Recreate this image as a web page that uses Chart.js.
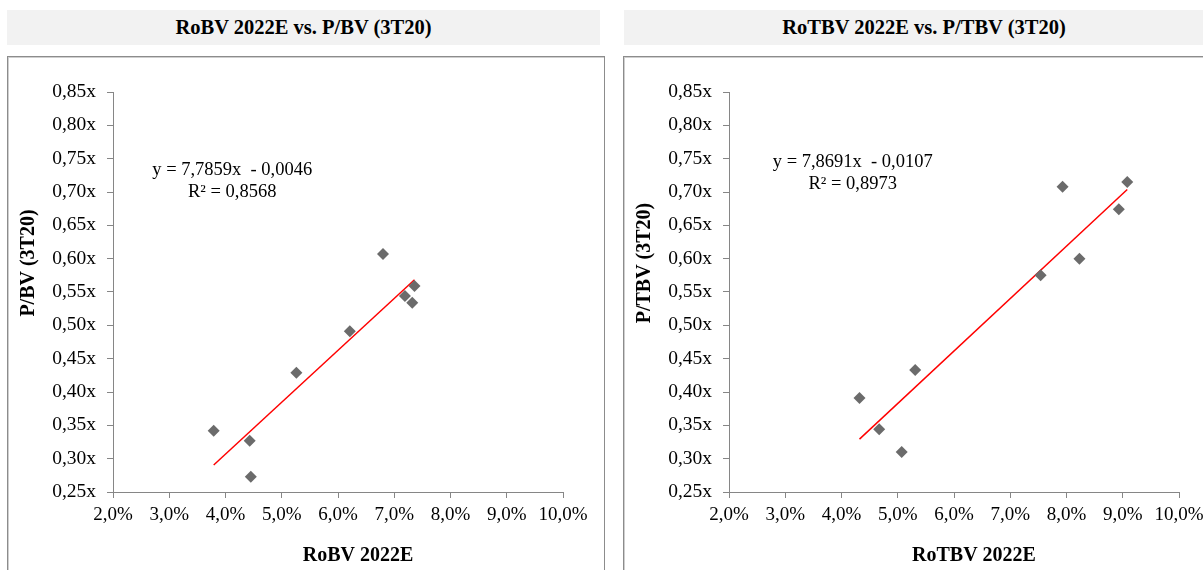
<!DOCTYPE html>
<html>
<head>
<meta charset="utf-8">
<script src="https://cdn.jsdelivr.net/npm/chart.js@4.4.1/dist/chart.umd.min.js"></script>
<style>
  body { margin: 0; background: #fff; overflow: hidden; width: 1203px; height: 570px; position: relative; font-family: "Liberation Serif", "Times New Roman", serif; }
  .head { position: absolute; top: 10px; height: 35px; line-height: 35px; background: #f2f2f2; text-align: center; font-weight: bold; font-size: 20.5px; color: #000; }
  .box { position: absolute; top: 56px; height: 540px; border: 1px solid #8c8c8c; box-shadow: inset 1px 1px 0 #cfcfcf; overflow: hidden; }
  .box canvas { position: absolute; left: 0; top: 0; }
</style>
</head>
<body>
<div class="head" style="left:7px;width:593px">RoBV 2022E vs. P/BV (3T20)</div>
<div class="head" style="left:624px;width:600px">RoTBV 2022E vs. P/TBV (3T20)</div>
<div class="box" style="left:7px;width:596px"><canvas id="c1" width="596" height="513"></canvas></div>
<div class="box" style="left:623px;width:600px"><canvas id="c2" width="596" height="513"></canvas></div>
<script>
// RoBV 2022E (%) vs P/BV (3T20)
var robv = [3.79, 4.43, 4.45, 5.26, 6.21, 6.80, 7.19, 7.36, 7.32];
var pbv = [0.342, 0.327, 0.273, 0.429, 0.491, 0.607, 0.544, 0.559, 0.534];
var fit1 = [7.7859, -0.0046];  // slope, intercept
var eq1 = ['y = 7,7859x  - 0,0046', 'R² = 0,8568'];

// RoTBV 2022E (%) vs P/TBV (3T20)
var rotbv = [4.32, 4.67, 5.07, 5.31, 7.54, 7.93, 8.23, 8.93, 9.08];
var ptbv = [0.391, 0.344, 0.310, 0.433, 0.575, 0.708, 0.600, 0.674, 0.715];
var fit2 = [7.8691, -0.0107];
var eq2 = ['y = 7,8691x  - 0,0107', 'R² = 0,8973'];

var xTicks = [2, 3, 4, 5, 6, 7, 8, 9, 10];
var yTicks = [0.25, 0.30, 0.35, 0.40, 0.45, 0.50, 0.55, 0.60, 0.65, 0.70, 0.75, 0.80, 0.85];

var serif = '"Liberation Serif", "Times New Roman", serif';

// trendline equation + axis titles
var labels = {
  id: 'labels',
  afterDatasetsDraw: function(chart) {
    var o = chart.options.plugins.labels;
    var ctx = chart.ctx;
    var px = chart.scales.x.getPixelForValue(o.eqAt[0]);
    var py = chart.scales.y.getPixelForValue(o.eqAt[1]);
    ctx.save();
    ctx.fillStyle = '#000';
    ctx.textAlign = 'center';
    ctx.textBaseline = 'middle';
    ctx.font = '18.5px ' + serif;
    o.eq.forEach(function(t, i) { ctx.fillText(t, px, py + i * 22); });
    ctx.font = 'bold 20px ' + serif;
    ctx.fillText(o.xTitle, o.xTitleAt[0], o.xTitleAt[1]);
    ctx.translate(o.yTitleAt[0], o.yTitleAt[1]);
    ctx.rotate(-Math.PI / 2);
    ctx.fillText(o.yTitle, 0, 0);
    ctx.restore();
  }
};

function makeChart(id, xs, ys, fit, eq, xTitle, yTitle, eqAt) {
  var pts = xs.map(function(x, i) { return {x: x, y: ys[i]}; });
  var lo = Math.min.apply(null, xs), hi = Math.max.apply(null, xs);
  var line = [lo, hi].map(function(x) { return {x: x, y: fit[0] * x / 100 + fit[1]}; });
  return new Chart(document.getElementById(id), {
    type: 'scatter',
    data: {
      datasets: [{
        data: pts,
        pointStyle: 'rectRot',
        pointRadius: 6,
        backgroundColor: '#6b6b6b',
        borderColor: '#6b6b6b',
        borderWidth: 0
      }, {
        type: 'line',
        data: line,
        borderColor: '#ff0000',
        borderWidth: 1.5,
        pointRadius: 0,
        fill: false
      }]
    },
    options: {
      responsive: false,
      animation: false,
      layout: { padding: { top: 35, right: 41, left: 0, bottom: 0 } },
      plugins: {
        legend: { display: false },
        tooltip: { enabled: false },
        labels: { eq: eq, eqAt: eqAt, xTitle: xTitle, yTitle: yTitle, xTitleAt: [350, 499], yTitleAt: [21, 206] }
      },
      scales: {
        x: {
          type: 'linear', min: 2, max: 10,
          afterBuildTicks: function(s) { s.ticks = xTicks.map(function(v) { return {value: v}; }); },
          afterFit: function(s) { s.height = 78; },
          grid: { display: true, drawOnChartArea: false, drawTicks: true, tickLength: 6, color: '#868686' },
          border: { color: '#868686', width: 1 },
          ticks: { color: '#000', padding: 6, font: { family: serif, size: 19 },
            callback: function(v) { return v.toFixed(1).replace('.', ',') + '%'; } }
        },
        y: {
          type: 'linear', min: 0.25, max: 0.85,
          afterBuildTicks: function(s) { s.ticks = yTicks.map(function(v) { return {value: v}; }); },
          afterFit: function(s) { s.width = 105; },
          grid: { display: true, drawOnChartArea: false, drawTicks: true, tickLength: 6, color: '#868686' },
          border: { color: '#868686', width: 1 },
          ticks: { color: '#000', padding: 11, font: { family: serif, size: 19.5 },
            callback: function(v) { return v.toFixed(2).replace('.', ',') + 'x'; } }
        }
      }
    },
    plugins: [labels]
  });
}

Promise.all([
  document.fonts.load('19px "Liberation Serif"'),
  document.fonts.load('bold 20px "Liberation Serif"')
]).catch(function() {}).then(function() {
  makeChart('c1', robv, pbv, fit1, eq1, 'RoBV 2022E', 'P/BV (3T20)', [4.12, 0.733]);
  makeChart('c2', rotbv, ptbv, fit2, eq2, 'RoTBV 2022E', 'P/TBV (3T20)', [4.2, 0.745]);
});
</script>
</body>
</html>
